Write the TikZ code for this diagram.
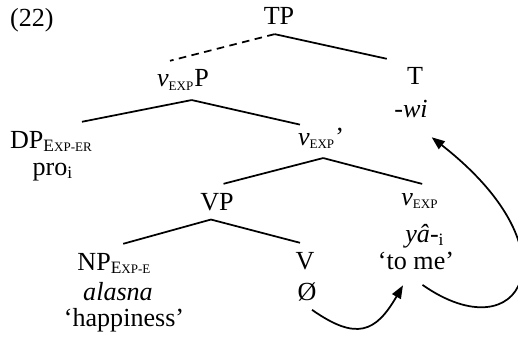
\documentclass[tikz,border=0pt,12pt]{standalone}
\usepackage{fontspec}
\setmainfont{Liberation Serif}
\usetikzlibrary{arrows.meta}
\newcommand{\fsc}[1]{{\fontsize{6}{6}\selectfont #1}}
\newcommand{\vexp}{\textit{v}\textsubscript{\fsc{EXP}}}
\begin{document}
\begin{tikzpicture}[x=0.46pt, y=0.46pt, font=\fontsize{12}{14}\selectfont,
	lbl/.style={anchor=base},
	branch/.style={line width=0.8pt},
	mv/.style={line width=0.8pt, -{Triangle[length=6pt,width=4.5pt]}}]
	\useasboundingbox (0,0) rectangle (518,339);
	\node[anchor=base west] (ex) at (1,312) {(22)};
	% labels, at the baseline of each line
	\node[lbl] (tp) at (279,314) {TP};
	\node[lbl] (vxp) at (183,252) {\vexp P};
	\node[lbl] (t) at (415,254) {T};
	\node[lbl] (wi) at (411,222) {\textit{-wi}};
	\node[lbl] (dp) at (51.5,191) {DP\textsubscript{E\fsc{XP-ER}}};
	\node[lbl] (pro) at (53,164) {pro\textsubscript{i}};
	\node[lbl] (vbar) at (321,194) {\vexp’};
	\node[lbl] (vp) at (217,129) {VP};
	\node[lbl] (vx) at (420,134) {\vexp};
	\node[lbl] (ya) at (425,97) {\textit{yâ}-\textsubscript{i}};
	\node[lbl] (tome) at (416,70) {‘to me’};
	\node[lbl] (np) at (114.5,69) {NP\textsubscript{E\fsc{XP-E}}};
	\node[lbl] (alasna) at (118,39) {\textit{alasna}};
	\node[lbl] (happ) at (124,13) {‘happiness’};
	\node[lbl] (v) at (305,70) {V};
	\node[lbl] (null) at (307,39) {Ø};
	% branches
	\draw[branch, dash pattern=on 3.5pt off 2.5pt] ([xshift=-2pt]tp.south) -- ([xshift=-6pt]vxp.north);
	\draw[branch] ([xshift=-2pt]tp.south) -- ([xshift=-13pt]t.north);
	\draw[branch] ([xshift=4pt]vxp.south) -- ([xshift=14pt]dp.north);
	\draw[branch] ([xshift=4pt]vxp.south) -- ([xshift=-9.7pt,yshift=-2.8pt]vbar.north);
	\draw[branch] ([xshift=1pt]vbar.south) -- ([xshift=3pt]vp.north);
	\draw[branch] ([xshift=1pt]vbar.south) -- ([xshift=1pt]vx.north);
	\draw[branch] ([xshift=-2.8pt]vp.south) -- ([xshift=4pt]np.north);
	\draw[branch] ([xshift=-2.8pt]vp.south) -- ([xshift=-2.3pt]v.north);
	% head movement
	\draw[mv] ([xshift=2.3pt]null.south) .. controls +(-35:25pt) and +(-120:25pt) .. ([xshift=-6pt,yshift=-3.2pt]tome.south);
	\draw[mv] ([xshift=3pt,yshift=-3pt]tome.south) .. controls +(-35:55pt) and +(-38:86pt) .. ([xshift=9.5pt,yshift=-5pt]wi.south);
\end{tikzpicture}
\end{document}
